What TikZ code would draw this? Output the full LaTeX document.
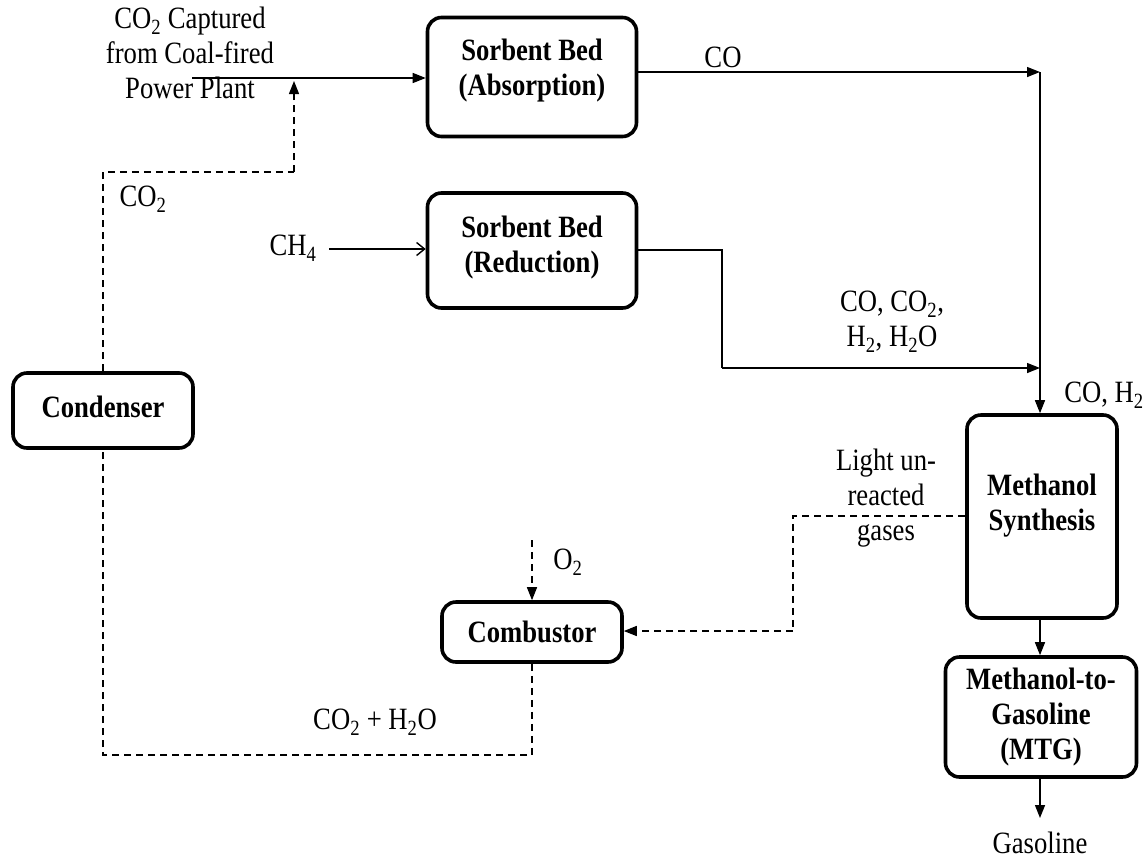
\documentclass[tikz,border=0pt]{standalone}
\usepackage{fontspec}
\setmainfont{Liberation Serif}[FakeStretch=0.86]
\usetikzlibrary{arrows.meta}
\tikzset{
  txt/.style={font=\fontsize{31}{35}\selectfont},
  unit/.style={draw, line width=3.6pt, rounded corners=14pt, inner sep=0pt},
  boxtext/.style={font=\fontsize{31}{35}\selectfont\bfseries, align=center, inner sep=0pt},
  flow/.style={line width=1.4pt},
  dflow/.style={line width=1.4pt, dash pattern=on 7pt off 5pt},
  tip/.style={-{Triangle[length=13pt,width=10pt]}},
  otip/.style={-{Straight Barb[length=8pt,width=13pt,line width=1.4pt]}},
  lbl/.style={txt, align=center, inner sep=0pt}
}
\begin{document}
\begin{tikzpicture}[x=1pt,y=-1pt]
\useasboundingbox (0,0) rectangle (1146,860);
% units
\node[unit, minimum width=209pt, minimum height=119pt,
  label={[boxtext, yshift=6pt]center:{Sorbent Bed\\(Absorption)}}] (abs) at (532,77) {};
\node[unit, minimum width=209pt, minimum height=115pt,
  label={[boxtext, yshift=3pt]center:{Sorbent Bed\\(Reduction)}}] (red) at (532,250.5) {};
\node[unit, minimum width=180pt, minimum height=75pt,
  label={[boxtext, yshift=4pt]center:{Condenser}}] (cond) at (103,410.5) {};
\node[unit, minimum width=180pt, minimum height=60pt,
  label={[boxtext]center:{Combustor}}] (comb) at (532,632) {};
\node[unit, minimum width=150pt, minimum height=203pt,
  label={[boxtext, yshift=11pt]center:{Methanol\\Synthesis}}] (meth) at (1042,516.5) {};
\node[unit, minimum width=191pt, minimum height=120pt,
  label={[boxtext]center:{Methanol-to-\\Gasoline\\(MTG)}}] (mtg) at (1041,717) {};
% labels
\node[lbl] (lsrc) at (190,53) {CO\textsubscript{2} Captured\\from Coal-fired\\Power Plant};
\node[lbl] (lco2) at (143,199) {CO\textsubscript{2}};
\node[lbl] (lch4) at (293,248) {CH\textsubscript{4}};
\node[lbl] (lco) at (723,57) {CO};
\node[lbl] (lmix) at (892,322) {CO, CO\textsubscript{2},\\H\textsubscript{2}, H\textsubscript{2}O};
\node[lbl] (lsyn) at (1104,395) {CO, H\textsubscript{2}};
\node[lbl] (llight) at (886,498) {Light un-\\reacted\\gases};
\node[lbl] (lo2) at (568,562) {O\textsubscript{2}};
\node[lbl] (lflue) at (375,722) {CO\textsubscript{2} + H\textsubscript{2}O};
\node[lbl] (lgas) at (1040,843) {Gasoline};
% coordinates
\coordinate (src) at (192,78);
\coordinate (ch4) at (329,249);
\coordinate (jA) at (1040,72);
\coordinate (jB) at (1040,368);
\coordinate (rc1) at (722,250);
\coordinate (rc2) at (722,368);
\coordinate (co2a) at (103,172);
\coordinate (co2b) at (294,172);
\coordinate (co2c) at (294,81);
\coordinate (lg1) at (793,516);
\coordinate (lg2) at (793,631);
\coordinate (o2) at (532,540);
\coordinate (fl1) at (532,755);
\coordinate (fl2) at (103,755);
\coordinate (gas) at (1040,818);
% solid flows
\draw[flow,tip] (src) -- (src -| abs.west);
\draw[flow,otip] (ch4) -- (ch4 -| red.west);
\draw[flow,tip] (jA -| abs.east) -- (jA);
\draw[flow] (jA) -- (jB);
\draw[flow,tip] (jB) -- (jB |- meth.north);
\draw[flow] (rc1 -| red.east) -- (rc1) -- (rc2);
\draw[flow,tip] (rc2) -- (jB);
\draw[flow,tip] (jB |- meth.south) -- (jB |- mtg.north);
\draw[flow,tip] (jB |- mtg.south) -- (gas);
% dashed flows
\draw[dflow] (cond.north -| co2a) -- (co2a) -- (co2b);
\draw[dflow,tip] (co2b) -- (co2c);
\draw[dflow] (lg1 -| meth.west) -- (lg1) -- (lg2);
\draw[dflow,tip] (lg2) -- (lg2 -| comb.east);
\draw[dflow,tip] (o2) -- (comb.north);
\draw[dflow] (comb.south) -- (fl1) -- (fl2) -- (cond.south -| fl2);
\end{tikzpicture}
\end{document}
